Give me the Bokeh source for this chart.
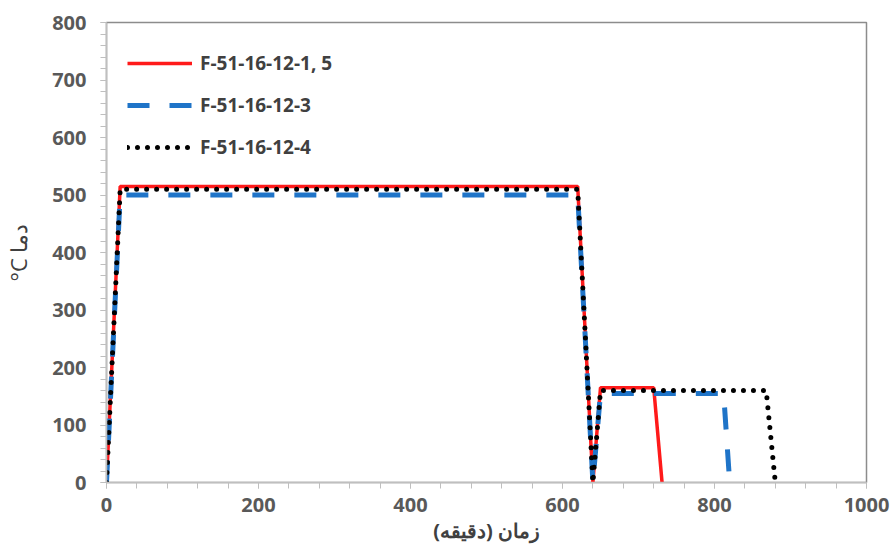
from bokeh.plotting import figure
from bokeh.models import Range1d, FixedTicker, Legend, LegendItem
from bokeh.embed import file_html
from bokeh.resources import INLINE

# Data (time in minutes, temperature in °C)
time_1 = [0, 18, 620, 640, 650, 720, 731]
temp_1 = [0, 515, 515, 0, 165, 165, 0]
time_3 = [0, 18, 620, 640, 650, 812, 820]
temp_3 = [0, 500, 500, 0, 155, 155, 0]
time_4 = [0, 18, 620, 640, 650, 868, 880]
temp_4 = [0, 510, 510, 0, 160, 160, 0]
labels = ["F-51-16-12-1, 5", "F-51-16-12-3", "F-51-16-12-4"]
x_ticks = [0, 200, 400, 600, 800, 1000]
y_ticks = [0, 100, 200, 300, 400, 500, 600, 700, 800]

p = figure(frame_width=760, frame_height=460, output_backend="svg",
           toolbar_location=None, x_range=Range1d(0, 1000), y_range=Range1d(0, 800),
           min_border_left=106, min_border_right=27, min_border_top=22, min_border_bottom=66)
p.width = 893
p.height = 548
p.xgrid.visible = False
p.ygrid.visible = False
p.outline_line_color = "#8c8c8c"
p.outline_line_width = 1.5
p.background_fill_color = "white"
p.border_fill_color = "white"

r1 = p.line(time_1, temp_1, line_color="#ff1a1a", line_width=3.5)
r3 = p.line(time_3, temp_3, line_color="#1f74c8", line_width=5, line_dash="22 20")
r4 = p.line(time_4, temp_4, line_color="black", line_width=5, line_dash="0 10", line_cap="round")

p.xaxis.ticker = FixedTicker(ticks=x_ticks, minor_ticks=list(range(0, 1001, 40)))
p.yaxis.ticker = FixedTicker(ticks=y_ticks, minor_ticks=list(range(0, 801, 20)))

for ax in (p.xaxis[0], p.yaxis[0]):
    ax.axis_line_color = "#bfbfbf"
    ax.axis_line_width = 1.5
    ax.major_tick_line_color = "#bfbfbf"
    ax.minor_tick_line_color = "#bfbfbf"
    ax.major_tick_in = 0
    ax.major_tick_out = 6
    ax.minor_tick_in = 0
    ax.minor_tick_out = 6
    ax.major_label_text_font = "Open Sans"
    ax.major_label_text_font_style = "bold"
    ax.major_label_text_font_size = "20px"
    ax.major_label_text_color = "#595959"
    ax.axis_label_text_font = "Open Sans"
    ax.axis_label_text_color = "#404040"

p.xaxis.major_label_standoff = 9
p.yaxis.major_label_standoff = 14
p.xaxis.axis_label = "زمان (دقیقه)\u200f"
p.xaxis.axis_label_text_font_style = "bold"
p.xaxis.axis_label_text_font_size = "20px"
p.xaxis.axis_label_standoff = 2
p.yaxis.axis_label = "°C دما"
p.yaxis.axis_label_text_font_style = "normal"
p.yaxis.axis_label_text_font_size = "22px"
p.yaxis.axis_label_standoff = 16

legend = Legend(items=[LegendItem(label=labels[0], renderers=[r1]),
                       LegendItem(label=labels[1], renderers=[r3]),
                       LegendItem(label=labels[2], renderers=[r4])],
                location=(21, 322), margin=0, padding=0, spacing=16,
                glyph_width=65, glyph_height=20, label_standoff=8,
                border_line_alpha=0, background_fill_alpha=0,
                label_text_font="Open Sans", label_text_font_style="bold",
                label_text_font_size="19px", label_text_color="#404040")
p.add_layout(legend)

open("out.html", "w").write(file_html(p, INLINE))
